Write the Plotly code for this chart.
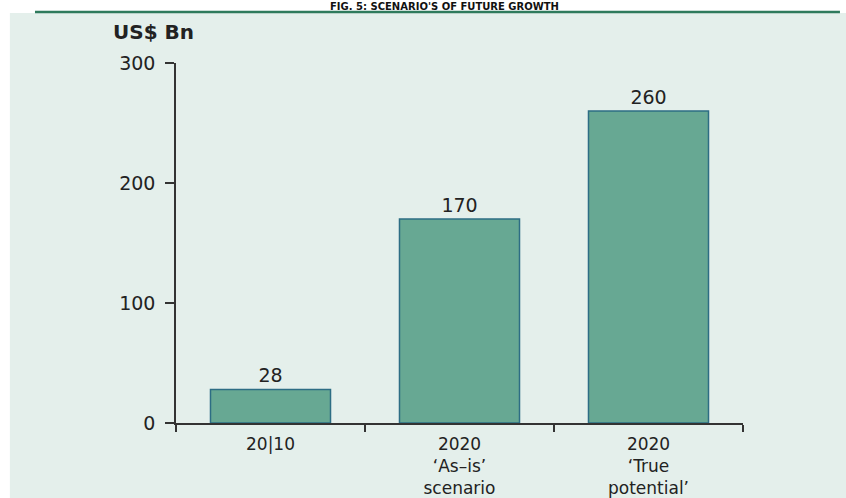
import plotly.graph_objects as go

# Market size scenarios, US$ billions
categories = ["20|10", "2020<br>‘As–is’<br>scenario", "2020<br>‘True<br>potential’"]
values = [28, 170, 260]
y_ticks = [0, 100, 200, 300]

FONT = "DejaVu Sans"
INK = "#222222"
PANEL = "#e4efeb"
BAR_FILL = "#67a893"
BAR_EDGE = "#2d6d84"

fig = go.Figure(
    go.Bar(
        x=categories,
        y=values,
        width=0.635,
        marker=dict(color=BAR_FILL, line=dict(color=BAR_EDGE, width=1.5)),
        text=[str(v) for v in values],
        textposition="outside",
        textfont=dict(family=FONT, size=19, color=INK),
        cliponaxis=False,
    )
)

fig.update_layout(
    width=846,
    height=498,
    margin=dict(l=176, r=103, t=63, b=75, autoexpand=False),
    paper_bgcolor="white",
    plot_bgcolor=PANEL,
    showlegend=False,
    font=dict(family=FONT, color=INK),
    xaxis=dict(
        type="category",
        range=[-0.5, 2.5],
        showline=True,
        linecolor="#333333",
        linewidth=1.5,
        ticks="outside",
        tickson="boundaries",
        ticklen=7,
        tickcolor="#333333",
        tickwidth=1.5,
        showgrid=False,
        tickfont=dict(family=FONT, size=17, color=INK),
        ticklabelstandoff=5,
        automargin=False,
    ),
    yaxis=dict(
        range=[0, 300],
        tickvals=y_ticks,
        showline=True,
        linecolor="#333333",
        linewidth=1.5,
        ticks="outside",
        ticklen=9,
        tickcolor="#333333",
        tickwidth=1.5,
        showgrid=False,
        zeroline=False,
        tickfont=dict(family=FONT, size=19, color=INK),
        ticklabelstandoff=6,
        automargin=False,
    ),
    shapes=[
        # light panel behind the whole chart
        dict(type="rect", xref="paper", yref="paper", x0=-0.293, x1=1.2, y0=-0.25, y1=1.1389,
             fillcolor=PANEL, line=dict(width=0), layer="below"),
        # rule under the figure title
        dict(type="line", xref="paper", yref="paper", x0=-0.2487, x1=1.171, y0=1.1417, y1=1.1417,
             line=dict(color="#2e7a5c", width=2.5)),
    ],
    annotations=[
        dict(text="<b>FIG. 5: SCENARIO'S OF FUTURE GROWTH</b>", xref="paper", yref="paper",
             x=0.474, y=1, xanchor="center", yanchor="top", yshift=64, showarrow=False,
             font=dict(family=FONT, size=10, color="#111111")),
        dict(text="<b>US$ Bn</b>", xref="paper", yref="paper", x=0, y=1,
             xanchor="left", yanchor="middle", xshift=-65, yshift=31, showarrow=False,
             font=dict(family=FONT, size=20, color=INK)),
    ],
)

fig.write_html("out.html")
